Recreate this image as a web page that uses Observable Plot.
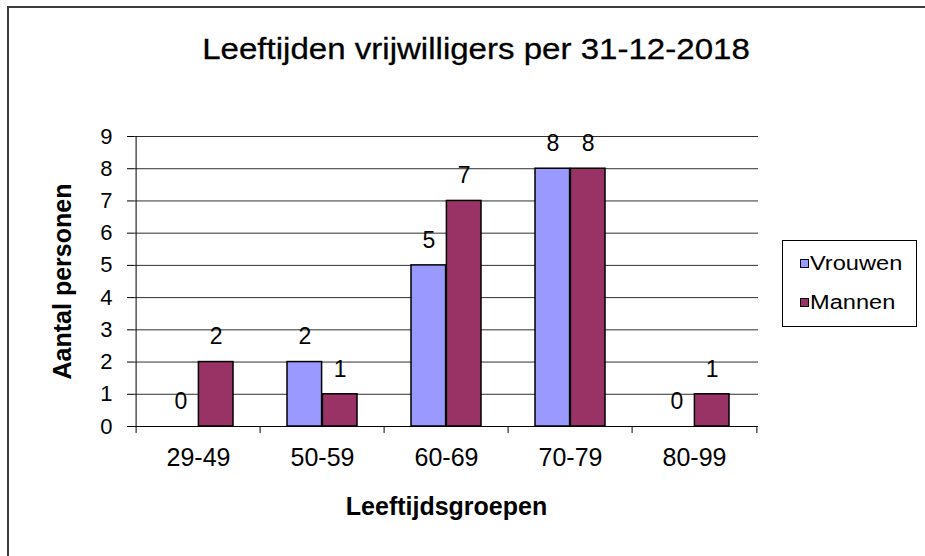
<!DOCTYPE html>
<html>
<head>
<meta charset="utf-8">
<script src="https://cdn.jsdelivr.net/npm/d3@7"></script>
<script src="https://cdn.jsdelivr.net/npm/@observablehq/plot@0.6"></script>
<style>
  html, body { margin: 0; padding: 0; background: #fff; }
  #chart { position: relative; width: 925px; height: 556px; overflow: hidden; font-family: "Liberation Sans", Arial, sans-serif; }
  #frame { position: absolute; left: 7px; top: 6px; right: -5px; bottom: -5px; border-left: 2px solid #3c3c3c; border-top: 2px solid #3c3c3c; }
  #title { position: relative; height: 100px; }
  #title span { position: absolute; left: 476px; top: 49px; transform: translate(-50%, -50%) scaleX(1.14); font-size: 29px; white-space: nowrap; color: #000; -webkit-text-stroke: 0.3px #000; }
  #legend { position: absolute; left: 782px; top: 240px; width: 133px; height: 85px; border: 1px solid #000; background: #fff; }
  .item { position: absolute; left: 17px; display: flex; align-items: center; font-size: 20px; white-space: nowrap; }
  .item .sw { width: 7px; height: 7px; border: 1px solid #000; margin-right: 1px; }
  .item .lbl { display: inline-block; transform: scaleX(1.18); transform-origin: left center; }
  svg { display: block; }
</style>
</head>
<body>
<div id="chart">
  <div id="frame"></div>
  <div id="title"><span>Leeftijden vrijwilligers per 31-12-2018</span></div>
  <div id="plot"></div>
  <div id="legend"></div>
</div>
<script>
const groups = ["29-49", "50-59", "60-69", "70-79", "80-99"];
const vrouwen = [0, 2, 5, 8, 0];
const mannen = [2, 1, 7, 8, 1];
const yTicks = [0, 1, 2, 3, 4, 5, 6, 7, 8, 9];
const seriesNames = ["Vrouwen", "Mannen"];
const seriesColors = ["#9999FF", "#993366"];
const title = "Leeftijden vrijwilligers per 31-12-2018";
const xTitle = "Leeftijdsgroepen";
const yTitle = "Aantal personen";

const dataV = groups.map((g, i) => ({group: g, series: "Vrouwen", value: vrouwen[i]}));
const dataM = groups.map((g, i) => ({group: g, series: "Mannen", value: mannen[i]}));

const W = 925, H = 456;
const mL = 134, mR = 167, mT = 36, mB = 130;
const bw = (W - mL - mR) / groups.length;
const barW = 35.4;
const outer = (bw - 2 * barW) / 2;

const plot = Plot.plot({
  width: W,
  height: H,
  marginLeft: mL,
  marginRight: mR,
  marginTop: mT,
  marginBottom: mB,
  style: {fontFamily: "'Liberation Sans', Arial, sans-serif", fontSize: "22px", background: "transparent", color: "#000", overflow: "visible"},
  x: {domain: groups, padding: 0, axis: null},
  y: {domain: [0, 9], axis: null},
  marks: [
    Plot.ruleY(yTicks.slice(1), {stroke: "#303030", strokeWidth: 1}),
    Plot.axisY({ticks: yTicks, tickSize: 7, tickPadding: 15, tickFormat: d => String(d), label: null, stroke: "#000", fontSize: 22}),
    Plot.axisX({tickSize: 0, tickPadding: 22, label: null, fontSize: 25}),
    Plot.ruleX([groups[0]], {x: d => d, y1: 0, y2: 9, dx: -bw / 2, stroke: "#000"}),
    Plot.ruleX(groups, {x: d => d, y1: 0, y2: 0, insetBottom: -7, dx: -bw / 2, stroke: "#000"}),
    Plot.ruleX([groups[groups.length - 1]], {x: d => d, y1: 0, y2: 0, insetBottom: -7, dx: bw / 2, stroke: "#000"}),
    Plot.ruleY([0], {stroke: "#000"}),
    Plot.barY(dataV, {x: "group", y: "value", fill: seriesColors[0], stroke: "#000", strokeWidth: 1.5, insetLeft: outer, insetRight: outer + barW}),
    Plot.barY(dataM, {x: "group", y: "value", fill: seriesColors[1], stroke: "#000", strokeWidth: 1.5, insetLeft: outer + barW, insetRight: outer}),
    Plot.text(dataV, {x: "group", y: "value", text: d => String(d.value), dx: -bw / 2 + outer + barW / 2, dy: -25, fontSize: 23}),
    Plot.text(dataM, {x: "group", y: "value", text: d => String(d.value), dx: -bw / 2 + outer + barW * 1.5, dy: -25, fontSize: 23}),
    Plot.text([xTitle], {frameAnchor: "bottom", textAnchor: "middle", dy: 88, fontWeight: "bold", fontSize: 25}),
    Plot.text([yTitle], {frameAnchor: "left", textAnchor: "middle", dx: -72, rotate: -90, fontWeight: "bold", fontSize: 25})
  ]
});
document.getElementById("plot").appendChild(plot);

const legend = document.getElementById("legend");
seriesNames.forEach((s, i) => {
  const item = document.createElement("div");
  item.className = "item";
  item.style.top = (i === 0 ? 11 : 50) + "px";
  const sw = document.createElement("span");
  sw.className = "sw";
  sw.style.background = seriesColors[i];
  const lbl = document.createElement("span");
  lbl.className = "lbl";
  lbl.textContent = s;
  item.appendChild(sw);
  item.appendChild(lbl);
  legend.appendChild(item);
});
</script>
</body>
</html>
